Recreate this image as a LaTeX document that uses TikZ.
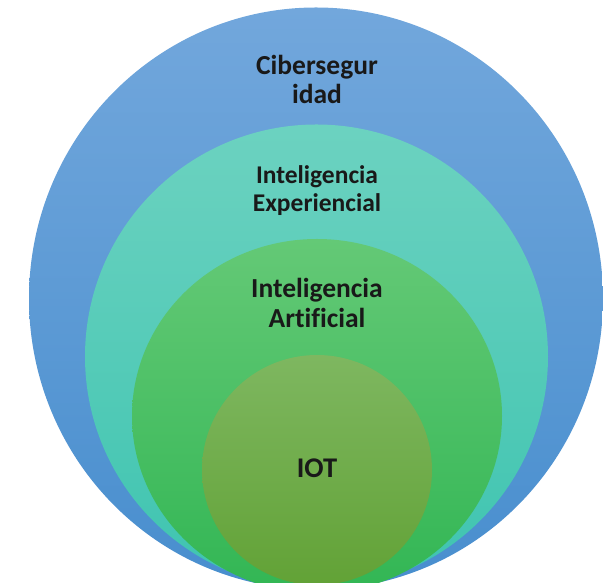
\documentclass[tikz,border=0pt]{standalone}
\usepackage{fontspec}
\setmainfont{Carlito}[Ligatures=NoCommon]
\definecolor{outT}{RGB}{114,167,220}
\definecolor{outB}{RGB}{72,142,206}
\definecolor{teaT}{RGB}{108,210,192}
\definecolor{teaB}{RGB}{62,196,176}
\definecolor{grnT}{RGB}{100,201,118}
\definecolor{grnB}{RGB}{50,182,84}
\definecolor{iotT}{RGB}{126,183,96}
\definecolor{iotB}{RGB}{98,162,54}
\tikzset{
  lbl/.style={font=\bfseries\fontsize{24}{28}\selectfont, align=center, text=black!90},
}
\begin{document}
\begin{tikzpicture}[x=1pt,y=1pt]
\useasboundingbox (0,0) rectangle (603,583);
\clip (0,0) rectangle (603,583);
\shade[top color=outT, bottom color=outB] (316,284.5) ellipse [x radius=287, y radius=291];
\shade[top color=teaT, bottom color=teaB] (316.5,226.5) ellipse [x radius=231.5, y radius=232];
\shade[top color=grnT, bottom color=grnB] (317,167) ellipse [x radius=185, y radius=177];
\shade[top color=iotT, bottom color=iotB] (317,113) ellipse [x radius=115, y radius=115];
\node[lbl, font=\bfseries\fontsize{27.5}{29}\selectfont] (ciber) at (317,503.5) {Cibersegur\\idad};
\node[lbl, font=\bfseries\fontsize{25.5}{27.5}\selectfont] (exp) at (317,392.5) {Inteligencia\\Experiencial};
\node[lbl, font=\bfseries\fontsize{27.5}{30}\selectfont] (ia) at (317,280) {Inteligencia\\Artificial};
\node[lbl, font=\bfseries\fontsize{28.5}{30}\selectfont] (iot) at (317,115) {IOT};
\end{tikzpicture}
\end{document}
